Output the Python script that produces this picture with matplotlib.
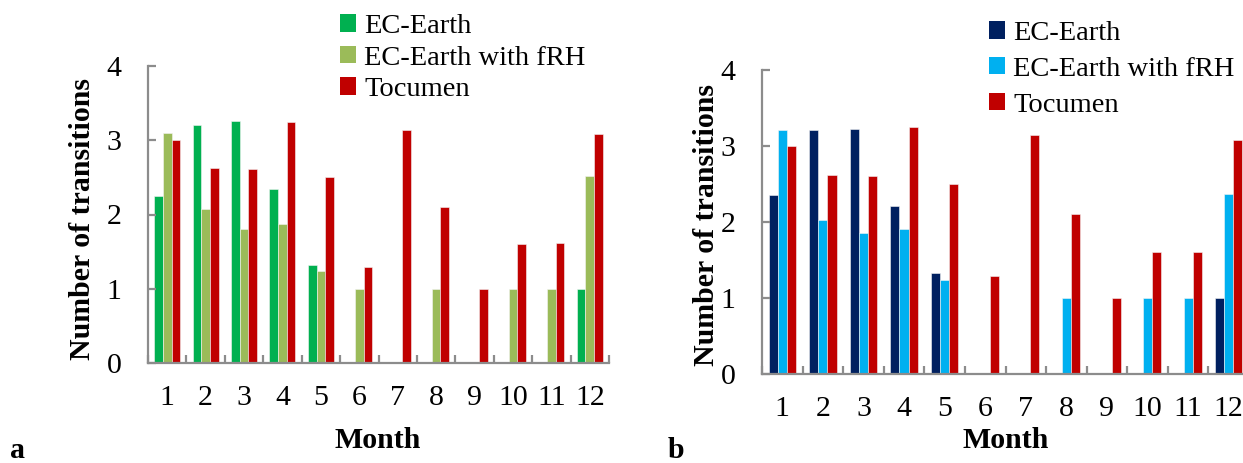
import matplotlib
matplotlib.use("Agg")
import matplotlib.pyplot as plt
import numpy as np
from matplotlib.patches import Patch

plt.rcParams['font.family'] = ['Liberation Serif', 'DejaVu Serif']

# Monthly number of transitions
months = list(range(1, 13))
month_labels = [str(m) for m in months]
series_names = ["EC-Earth", "EC-Earth with fRH", "Tocumen"]

ec_earth_a = [2.25, 3.20, 3.26, 2.34, 1.32, 0, 0, 0, 0, 0, 0, 1.0]
ec_earth_frh_a = [3.10, 2.07, 1.81, 1.87, 1.24, 1.0, 0, 1.0, 0, 1.0, 1.0, 2.52]
ec_earth_b = [2.35, 3.21, 3.23, 2.21, 1.33, 0, 0, 0, 0, 0, 0, 1.0]
ec_earth_frh_b = [3.21, 2.03, 1.86, 1.91, 1.24, 0, 0, 1.0, 0, 1.0, 1.0, 2.37]
tocumen = [3.00, 2.62, 2.61, 3.25, 2.50, 1.29, 3.14, 2.10, 1.00, 1.60, 1.61, 3.08]

colors_a = ["#00B050", "#9BBB59", "#C00000"]
colors_b = ["#002060", "#00B0F0", "#C00000"]

W, H = 1243, 463
fig = plt.figure(figsize=(W / 100, H / 100), dpi=100)

AXIS_GREY = "#8C8C8C"
TICK_FS = 21.5
LABEL_FS = 21.5
LEGEND_FS = 20.5


def draw_panel(rect, series, colors):
    ax = fig.add_axes(rect)
    x = np.arange(1, 13)
    bw = 0.225
    for i, (vals, c) in enumerate(zip(series, colors)):
        ax.bar(x + (i - 1) * bw, vals, bw, color=c, edgecolor="#F4F4F4",
               linewidth=0.4)
    ax.set_xlim(0.5, 12.5)
    ax.set_ylim(0, 4)
    for s in ("top", "right"):
        ax.spines[s].set_visible(False)
    for s in ("left", "bottom"):
        ax.spines[s].set_color(AXIS_GREY)
        ax.spines[s].set_linewidth(1.6)
    ax.set_yticks([0, 1, 2, 3, 4])
    ax.set_xticks(x)
    ax.set_xticklabels(month_labels)
    ax.set_xticks(np.arange(0.5, 13, 1.0), minor=True)
    ax.tick_params(axis="x", which="major", length=0, pad=16,
                   labelsize=TICK_FS)
    ax.tick_params(axis="x", which="minor", direction="in", length=6,
                   width=1.6, color=AXIS_GREY)
    ax.tick_params(axis="y", which="major", direction="in", length=6,
                   width=1.6, color=AXIS_GREY, pad=19, labelsize=TICK_FS)
    return ax


ax_a = draw_panel([148 / W, 1 - 363 / H, 461 / W, 297 / H],
                  [ec_earth_a, ec_earth_frh_a, tocumen], colors_a)
ax_b = draw_panel([762 / W, 1 - 374 / H, 487 / W, 304 / H],
                  [ec_earth_b, ec_earth_frh_b, tocumen], colors_b)

# Axis titles
for xc, yc in ((83, 219), (706, 225)):
    fig.text(xc / W, 1 - yc / H, "Number of transitions", rotation=90,
             ha="center", va="center", fontsize=LABEL_FS, fontweight="bold")
for xc in (378, 1006):
    fig.text(xc / W, 1 - 440 / H, "Month", ha="center", va="center",
             fontsize=LABEL_FS, fontweight="bold")

# Panel letters
fig.text(10 / W, 1 - 458 / H, "a", ha="left", va="baseline",
         fontsize=LABEL_FS, fontweight="bold")
fig.text(668 / W, 1 - 458 / H, "b", ha="left", va="baseline",
         fontsize=LABEL_FS, fontweight="bold")

# Legends
for (lx, ly, cols, spacing) in ((340, 14, colors_a, 0.23),
                                (989, 21, colors_b, 0.38)):
    handles = [Patch(facecolor=c, edgecolor="none") for c in cols]
    fig.legend(handles, series_names, loc="upper left",
               bbox_to_anchor=(lx / W, 1 - ly / H), frameon=False,
               borderpad=0, borderaxespad=0, handlelength=0.55,
               handleheight=0.55, handletextpad=0.3, labelspacing=spacing,
               fontsize=LEGEND_FS)

fig.savefig("out.png", dpi=100)
